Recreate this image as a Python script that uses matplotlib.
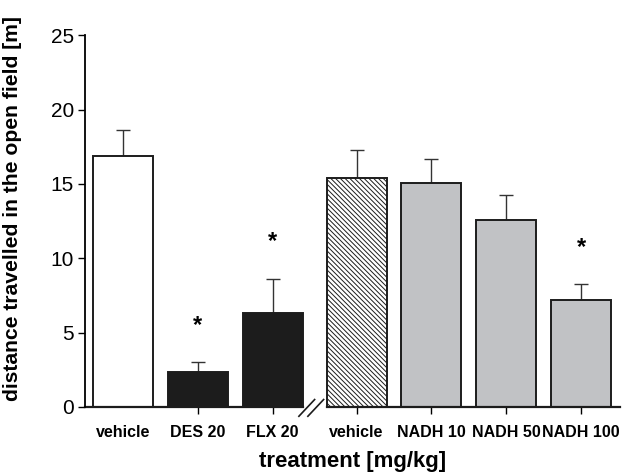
import numpy as np
import matplotlib.pyplot as plt
from matplotlib.lines import Line2D

plt.rcParams['font.family'] = ['Liberation Sans', 'DejaVu Sans']

groups = ['vehicle', 'DES 20', 'FLX 20', 'vehicle', 'NADH 10', 'NADH 50', 'NADH 100']
means = [16.9, 2.35, 6.3, 15.4, 15.05, 12.6, 7.2]
sems = [1.7, 0.65, 2.3, 1.85, 1.65, 1.65, 1.05]
signif = [False, True, True, False, False, False, True]

# second block of bars sits a bit further right, after the axis break
xpos = np.array([0, 1, 2, 3.12, 4.12, 5.12, 6.12])
fills = ['white', '#1c1c1c', '#1c1c1c', 'white', '#c1c2c5', '#c1c2c5', '#c1c2c5']
hatches = ['', '', '', '\\\\\\\\\\\\\\', '', '', '']

fig = plt.figure(figsize=(6.29, 4.76), dpi=100)
ax = fig.add_axes([0.135, 0.145, 0.851, 0.781])

plt.rcParams['hatch.linewidth'] = 0.7
for x, m, s, c, h in zip(xpos, means, sems, fills, hatches):
    ax.bar(x, m, width=0.8, color=c, edgecolor='#1c1c1c', linewidth=1.4, hatch=h, zorder=2)
    ax.errorbar(x, m, yerr=[[0], [s]], fmt='none', ecolor='#333333',
                elinewidth=1.0, capsize=5, capthick=1.0, zorder=1)

for x, m, s, sig in zip(xpos, means, sems, signif):
    if sig:
        ax.text(x, m + s + 2.5, '*', ha='center', va='center', fontsize=17, fontweight='bold')

ax.set_xlim(-0.507, 6.64)
ax.set_ylim(0, 25)
ax.set_yticks(range(0, 26, 5))
ax.set_xticks(xpos)
ax.set_xticklabels(groups, fontsize=11.5, fontweight='bold')
ax.tick_params(axis='y', labelsize=15, length=5, width=1.0, direction='out', pad=3)
ax.tick_params(axis='x', length=5, width=1.0, direction='out', pad=8)
ax.xaxis.get_major_ticks()[0].tick1line.set_visible(False)

for side in ['top', 'right', 'bottom']:
    ax.spines[side].set_visible(False)
ax.spines['left'].set_linewidth(1.3)

# broken x axis between the two experiments
t = ax.get_xaxis_transform()
brk_l, brk_r = 2.41, 2.72
ax.add_line(Line2D([-0.507, brk_l], [0, 0], transform=t, color='#1c1c1c', lw=1.6, clip_on=False))
ax.add_line(Line2D([brk_r, 6.64], [0, 0], transform=t, color='#1c1c1c', lw=1.6, clip_on=False))
for dx in (0.0, 0.12):
    ax.add_line(Line2D([brk_l - 0.06 + dx, brk_l + 0.15 + dx], [-0.025, 0.02], transform=t,
                       color='#1c1c1c', lw=1.2, clip_on=False))

ax.set_ylabel('distance travelled in the open field [m]', fontsize=15.2, fontweight='bold')
ax.yaxis.set_label_coords(-0.118, 0.535)
ax.set_xlabel('treatment [mg/kg]', fontsize=16, fontweight='bold', labelpad=8)

plt.savefig('out.png', dpi=100)
